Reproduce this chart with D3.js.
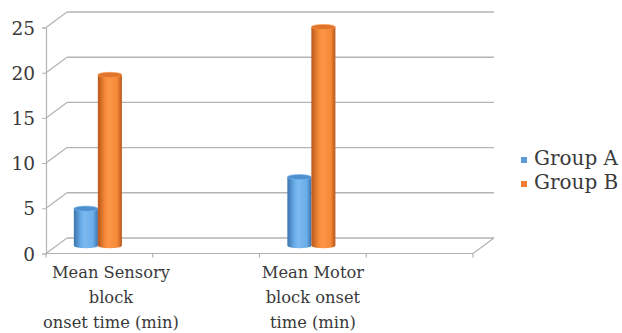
<!DOCTYPE html>
<html><head><meta charset="utf-8">
<script src="https://cdn.jsdelivr.net/npm/d3@7"></script>
<style>
body{margin:0;background:#fff}
svg{display:block}
text{font-family:"DejaVu Serif",serif;fill:#3a3a3a}
</style>
</head><body>
<svg id="chart" width="622" height="333"></svg>
<script>
// Category slots (empty slots keep the spacing of the floor ticks)
const categories = ["Mean Sensory block onset time (min)", "", "Mean Motor block onset time (min)", ""];
const categoryLines = [["Mean Sensory", "block", "onset time (min)"], [], ["Mean Motor", "block onset", "time (min)"], []];
const seriesNames = ["Group A", "Group B"];
const groupA = [4.1, null, 7.6, null];
const groupB = [18.9, null, 24.2, null];
const yTicks = [0, 5, 10, 15, 20, 25];
const seriesColors = ["#5b9bd5", "#ed7d31"];

const svg = d3.select("#chart");

// Oblique 3D frame: front plane plus a depth offset to the back wall
const depthX = 21, depthY = -15.5;
const x = d3.scaleBand().domain(d3.range(categories.length)).range([46, 473]).padding(0);
const y = d3.scaleLinear().domain([0, 25]).range([253.5, 27.5]);
const gridColor = "#b3b3b3";

const frame = svg.append("g");
// back-wall gridlines and left-wall diagonals
yTicks.forEach(t => {
  frame.append("line")
    .attr("x1", x.range()[0] + depthX).attr("x2", x.range()[1] + depthX)
    .attr("y1", y(t) + depthY).attr("y2", y(t) + depthY)
    .attr("stroke", gridColor).attr("stroke-width", 1.4);
  frame.append("line")
    .attr("x1", x.range()[0]).attr("x2", x.range()[0] + depthX)
    .attr("y1", y(t)).attr("y2", y(t) + depthY)
    .attr("stroke", gridColor).attr("stroke-width", 1.2);
});
// floor front edge and right edge
frame.append("line")
  .attr("x1", x.range()[0]).attr("x2", x.range()[1])
  .attr("y1", y(0)).attr("y2", y(0))
  .attr("stroke", gridColor).attr("stroke-width", 1.2);
frame.append("line")
  .attr("x1", x.range()[1]).attr("x2", x.range()[1] + depthX)
  .attr("y1", y(0)).attr("y2", y(0) + depthY)
  .attr("stroke", gridColor).attr("stroke-width", 1.2);

// value axis
const yAxis = d3.axisLeft(y).tickValues(yTicks).tickSize(4).tickPadding(7);
const ya = svg.append("g").attr("transform", `translate(${x.range()[0]},0)`).call(yAxis);
ya.select(".domain").attr("stroke", gridColor).attr("stroke-width", 1.2);
ya.selectAll(".tick line").attr("stroke", gridColor);
ya.selectAll(".tick text").attr("font-size", 18.5).attr("font-family", "DejaVu Serif").attr("fill", "#3a3a3a").attr("dy", "0.36em");

// category axis ticks at slot boundaries
const boundaries = d3.range(categories.length + 1).map(i => x.range()[0] + i * x.bandwidth());
svg.append("g").selectAll("line").data(boundaries).join("line")
  .attr("x1", d => d).attr("x2", d => d)
  .attr("y1", y(0)).attr("y2", y(0) + 4)
  .attr("stroke", gridColor).attr("stroke-width", 1.2);

// category labels, kept from running past the left edge of the plot
const labelSize = 16.3;
categories.forEach((c, i) => {
  if (!c) return;
  const t = svg.append("text").attr("text-anchor", "middle").attr("font-size", labelSize);
  categoryLines[i].forEach((ln, j) => {
    t.append("tspan").attr("x", 0).attr("y", 277.5 + j * 25).text(ln);
  });
  const w = t.node().getBBox().width;
  const cx = Math.max(x(i) + x.bandwidth() / 2, 43 + w / 2);
  t.selectAll("tspan").attr("x", cx);
});

// cylinder gradients
const defs = svg.append("defs");
const shades = [
  {dark: "#3b74ad", mid: "#6aaee9", light: "#7cb9ef", top: "#4d8fcf"},
  {dark: "#b9571a", mid: "#f58a38", light: "#fb9646", top: "#e0742c"}
];
shades.forEach((s, k) => {
  const g = defs.append("linearGradient").attr("id", "cyl" + k).attr("x1", 0).attr("x2", 1).attr("y1", 0).attr("y2", 0);
  g.append("stop").attr("offset", "0%").attr("stop-color", s.dark);
  g.append("stop").attr("offset", "30%").attr("stop-color", s.mid);
  g.append("stop").attr("offset", "45%").attr("stop-color", s.light);
  g.append("stop").attr("offset", "80%").attr("stop-color", s.mid);
  g.append("stop").attr("offset", "100%").attr("stop-color", s.dark);
});

// bars as cylinders standing at mid-depth
const barW = x.bandwidth() * 0.225;
const rx = barW / 2, ry = 2.6;
const midLift = depthY / 2;
const series = [groupA, groupB];
const bars = svg.append("g");
series.forEach((vals, k) => {
  vals.forEach((v, i) => {
    if (v == null) return;
    const cx = x(i) + x.bandwidth() / 2 - barW + k * barW + rx - 1.5;
    const yb = y(0) + midLift;
    const yt = y(v) + midLift;
    const body = `M${cx - rx},${yt} L${cx - rx},${yb} A${rx},${ry} 0 0 0 ${cx + rx},${yb} L${cx + rx},${yt} Z`;
    bars.append("path").attr("d", body).attr("fill", `url(#cyl${k})`);
    bars.append("ellipse").attr("cx", cx).attr("cy", yt).attr("rx", rx).attr("ry", ry)
      .attr("fill", shades[k].top).attr("stroke", shades[k].light).attr("stroke-width", 0.6);
  });
});

// legend
const legend = svg.append("g");
seriesNames.forEach((n, k) => {
  const ly = 157 + k * 24;
  legend.append("rect").attr("x", 521).attr("y", ly).attr("width", 6).attr("height", 6).attr("fill", seriesColors[k]);
  legend.append("text").attr("x", 534).attr("y", ly + 7.5).attr("font-size", 20).text(n);
});
</script>
</body></html>
